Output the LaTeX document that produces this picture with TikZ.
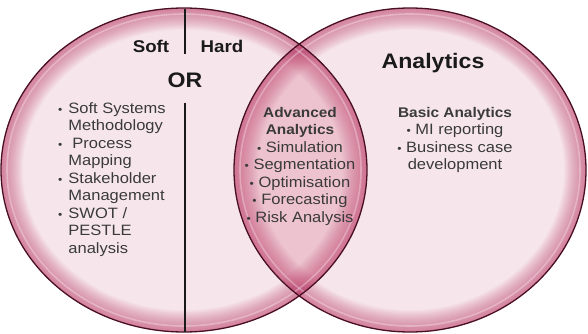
\documentclass[tikz,border=0pt]{standalone}
\usepackage{fontspec}
\setmainfont{Liberation Sans}[FakeStretch=1.1]
\usetikzlibrary{calc}
\definecolor{rimdark}{HTML}{4A0F22}
\definecolor{rimpink}{HTML}{C23E6C}
\definecolor{inpink}{HTML}{F6E6EB}
\definecolor{lenspink}{HTML}{EDC3CF}
\definecolor{txtgrey}{HTML}{3A3A3A}
\definecolor{txtdark}{HTML}{1A1A1A}
\def\Lell{(184,170) ellipse [x radius=183pt, y radius=162pt]}
\def\Rell{(410,170) ellipse [x radius=176pt, y radius=162pt]}
\tikzset{
  listtxt/.style={inner sep=0pt, text=txtgrey, font=\fontsize{15}{17.5}\selectfont},
  headtxt/.style={inner sep=0pt, text=txtdark, font=\bfseries\fontsize{17}{20}\selectfont},
  bigtxt/.style={inner sep=0pt, text=txtdark, font=\bfseries\fontsize{21}{24}\selectfont},
  divider/.style={draw=txtdark, line width=1.4pt},
  glow/.style={line width=#1, rimpink}
}
\newcommand{\bul}{{\fontsize{11}{11}\selectfont •}}
\begin{document}
\begin{tikzpicture}[x=1pt, y=-1pt]
\useasboundingbox (0,0) rectangle (588,334);
% left ellipse
\fill[inpink] \Lell;
\begin{scope}
  \clip \Lell;
  \foreach \w in {2,4,...,44}
    \draw[glow=\w pt, opacity=0.035] \Lell;
\end{scope}
% right ellipse
\fill[inpink] \Rell;
\begin{scope}
  \clip \Rell;
  \foreach \w in {2,4,...,44}
    \draw[glow=\w pt, opacity=0.035] \Rell;
\end{scope}
% lens
\begin{scope}
  \clip \Lell;
  \clip \Rell;
  \fill[lenspink] (0,0) rectangle (588,334);
  \foreach \w in {2,4,...,48}
    {\draw[glow=\w pt, opacity=0.03] \Lell; \draw[glow=\w pt, opacity=0.03] \Rell;}
\end{scope}
% light highlight inside rims
\draw[white, opacity=0.3, line width=1.6pt] (184,170) ellipse [x radius=177pt, y radius=156pt];
\draw[white, opacity=0.3, line width=1.6pt] (410,170) ellipse [x radius=170pt, y radius=156pt];
% outlines
\draw[rimdark, line width=1.3pt] \Lell;
\draw[rimdark, line width=1.3pt] \Rell;
% divider
\coordinate (dtop) at (185,9);
\coordinate (dmid1) at (185,54);
\coordinate (dmid2) at (185,103);
\coordinate (dbot) at (185,332);
\draw[divider] (dtop) -- (dmid1);
\draw[divider] (dmid2) -- (dbot);
% headings
\node[headtxt] (soft) at (151,46) {Soft};
\node[headtxt] (hard) at (222,46) {Hard};
\node[bigtxt] (or) at (185,80) {OR};
\node[bigtxt] (analytics) at (433,63) {Analytics};
% left list
\node[listtxt, anchor=north west] (leftlist) at (58,101) {%
  \begin{tabular}{@{}l@{\hspace{6pt}}l@{}}
  \bul & Soft Systems\\
       & Methodology\\
  \bul & \hspace{4pt}Process\\
       & Mapping\\
  \bul & Stakeholder\\
       & Management\\
  \bul & SWOT /\\
       & PESTLE\\
       & analysis
  \end{tabular}};
% middle
\node[listtxt, align=center, anchor=north] (mid) at (300,107) {%
  {\bfseries\fontsize{14}{17.5}\selectfont Advanced}\\
  {\bfseries\fontsize{14}{17.5}\selectfont Analytics}\\
  \bul\ Simulation\\
  \bul\ Segmentation\\
  \bul\ Optimisation\\
  \bul\ Forecasting\\
  \bul\ Risk Analysis};
% right
\node[listtxt, align=center, anchor=north] (right) at (455,107) {%
  {\bfseries\fontsize{14}{17.5}\selectfont Basic Analytics}\\
  \bul\ MI reporting\\
  \bul\ Business case\\
  development};
\end{tikzpicture}
\end{document}
